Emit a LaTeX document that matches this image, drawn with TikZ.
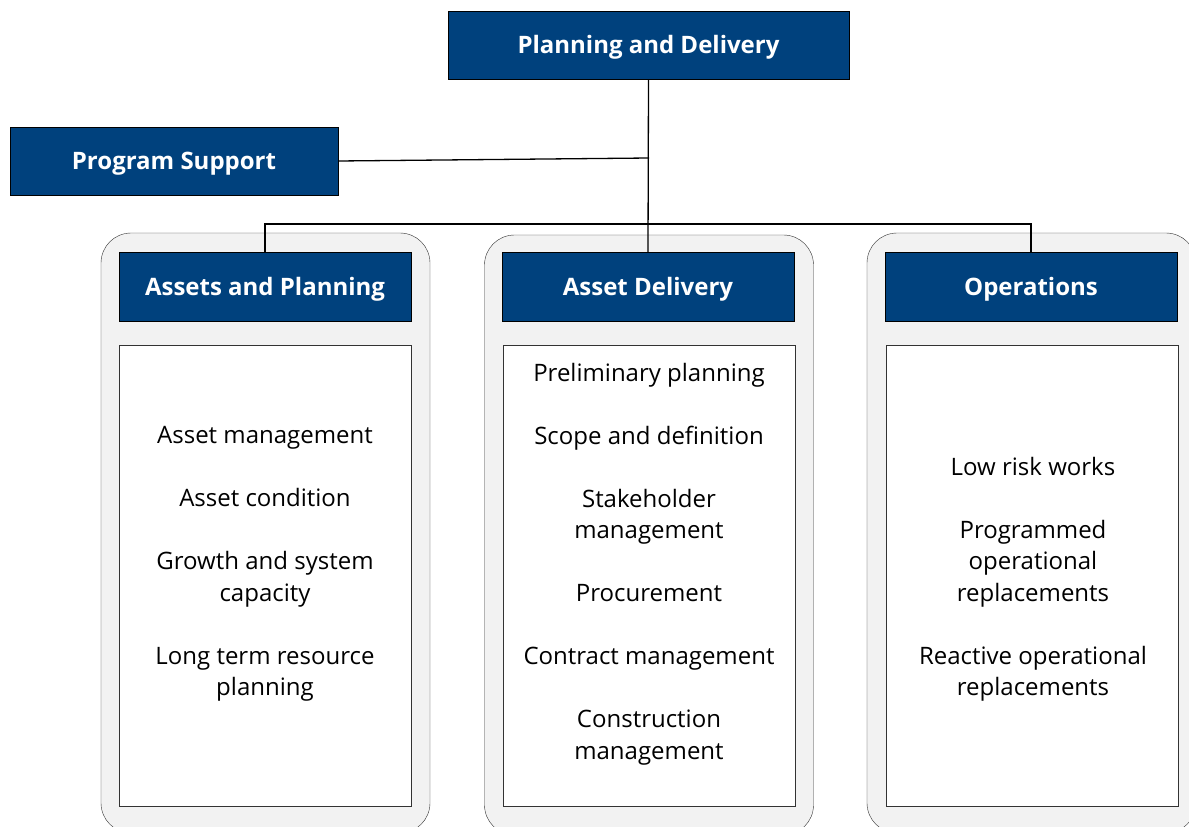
\documentclass[tikz,border=0pt]{standalone}
\usepackage{fontspec}
\setmainfont{Open Sans}
\usetikzlibrary{positioning}
\definecolor{orgblue}{RGB}{0,65,125}
\definecolor{panelgrey}{RGB}{242,242,242}

\begin{document}
\begin{tikzpicture}[x=1pt,y=-1pt,
  head/.style={draw=black,fill=orgblue,text=white,font=\fontsize{24}{28}\selectfont\bfseries,text height=17.5pt,text depth=0pt,minimum width=292pt,minimum height=69pt,inner sep=0pt},
  panel/.style={draw=black!80,fill=panelgrey,rounded corners=30pt,minimum width=329pt,minimum height=600pt,inner sep=0pt},
  listbox/.style={draw=black!80,fill=white,minimum width=292pt,minimum height=461pt,inner sep=0pt},
  items/.style={align=center,font=\fontsize{24}{31.5}\selectfont},
  link/.style={line width=1.3pt}]
  \path[use as bounding box,clip] (0,0) rectangle (1189,827);

  % the three department panels
  \node[panel] (pnlA) at (265.5,533) {};
  \node[panel] (pnlB) at (649,535) {};
  \node[panel] (pnlC) at (1031.5,533) {};

  \node[head,minimum width=401pt,minimum height=68pt] (top) at (648.5,45) {Planning and Delivery};
  \node[head,minimum width=328pt,minimum height=68pt] (sup) at (174,161) {Program Support};

  \node[head] (plan) at (265,286.5) {Assets and Planning};
  \node[head] (deliv) at (648,286.5) {Asset Delivery};
  \node[head] (ops) at (1031,286.5) {Operations};

  \node[listbox] (lstA) at (265,575.5) {};
  \node[listbox] (lstB) at (649,575.5) {};
  \node[listbox] (lstC) at (1032.5,575.5) {};

  \node[items] (txtA) at (265,564) {Asset management\\[31.5pt] Asset condition\\[31.5pt] Growth and system\\ capacity\\[31.5pt] Long term resource\\ planning};
  \node[items] (txtB) at (649,564) {Preliminary planning\\[31.5pt] Scope and definition\\[31.5pt] Stakeholder\\ management\\[31.5pt] Procurement\\[31.5pt] Contract management\\[31.5pt] Construction\\ management};
  \node[items] (txtC) at (1033,579.5) {Low risk works\\[31.5pt] Programmed\\ operational\\ replacements\\[31.5pt] Reactive operational\\ replacements};

  % reporting lines
  \coordinate (mid) at (649,158);
  \coordinate (bus) at (649,224);
  \draw[link] (top.south) -- (deliv.north);
  \draw[link] (sup.east) -- (mid);
  \draw[link] (plan.north) |- (bus) -| (ops.north);
\end{tikzpicture}
\end{document}
